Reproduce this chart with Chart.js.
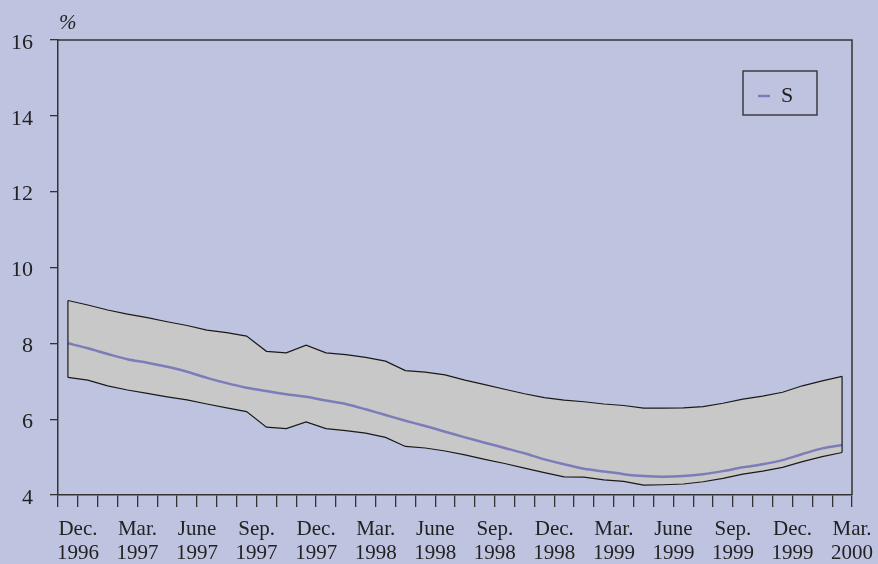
<!DOCTYPE html>
<html>
<head>
<meta charset="utf-8">
<script src="https://cdn.jsdelivr.net/npm/chart.js@4/dist/chart.umd.min.js"></script>
<style>
  html, body { margin: 0; padding: 0; background: #BEC4E0; }
  canvas { display: block; }
</style>
</head>
<body>
<canvas id="c" width="878" height="564"></canvas>
<script>
// Monthly categories, Dec. 1996 .. Mar. 2000
const categories = [
  "Dec. 1996","Jan. 1997","Feb. 1997","Mar. 1997","Apr. 1997","May 1997","June 1997","July 1997","Aug. 1997","Sep. 1997",
  "Oct. 1997","Nov. 1997","Dec. 1997","Jan. 1998","Feb. 1998","Mar. 1998","Apr. 1998","May 1998","June 1998","July 1998",
  "Aug. 1998","Sep. 1998","Oct. 1998","Nov. 1998","Dec. 1998","Jan. 1999","Feb. 1999","Mar. 1999","Apr. 1999","May 1999",
  "June 1999","July 1999","Aug. 1999","Sep. 1999","Oct. 1999","Nov. 1999","Dec. 1999","Jan. 2000","Feb. 2000","Mar. 2000"
];
// Tick labels shown under the axis (every third month)
const tickLabels = {
  "Dec. 1996": ["Dec.", "1996"], "Mar. 1997": ["Mar.", "1997"], "June 1997": ["June", "1997"], "Sep. 1997": ["Sep.", "1997"],
  "Dec. 1997": ["Dec.", "1997"], "Mar. 1998": ["Mar.", "1998"], "June 1998": ["June", "1998"], "Sep. 1998": ["Sep.", "1998"],
  "Dec. 1998": ["Dec.", "1998"], "Mar. 1999": ["Mar.", "1999"], "June 1999": ["June", "1999"], "Sep. 1999": ["Sep.", "1999"],
  "Dec. 1999": ["Dec.", "1999"], "Mar. 2000": ["Mar.", "2000"]
};
const upperBand = [9.13, 9.01, 8.88, 8.77, 8.68, 8.57, 8.47, 8.35, 8.28, 8.19,
                   7.79, 7.75, 7.95, 7.75, 7.70, 7.63, 7.53, 7.28, 7.24, 7.17,
                   7.03, 6.91, 6.79, 6.67, 6.57, 6.50, 6.46, 6.40, 6.36, 6.29,
                   6.29, 6.30, 6.33, 6.42, 6.53, 6.61, 6.71, 6.88, 7.01, 7.13];
const lowerBand = [7.10, 7.03, 6.88, 6.77, 6.68, 6.59, 6.51, 6.40, 6.30, 6.20,
                   5.79, 5.75, 5.93, 5.75, 5.70, 5.63, 5.52, 5.28, 5.24, 5.16,
                   5.06, 4.94, 4.83, 4.71, 4.59, 4.48, 4.47, 4.40, 4.36, 4.26,
                   4.27, 4.29, 4.35, 4.44, 4.55, 4.63, 4.73, 4.88, 5.01, 5.12];
const seriesS   = [8.00, 7.87, 7.72, 7.58, 7.49, 7.38, 7.25, 7.09, 6.95, 6.83,
                   6.74, 6.66, 6.59, 6.49, 6.40, 6.26, 6.11, 5.96, 5.82, 5.67,
                   5.52, 5.38, 5.24, 5.10, 4.94, 4.81, 4.69, 4.62, 4.55, 4.50,
                   4.48, 4.50, 4.55, 4.63, 4.73, 4.81, 4.92, 5.08, 5.23, 5.32];
const yMin = 4, yMax = 16, yStep = 2;
const unitLabel = "%";
const seriesName = "S";

const AXIS = '#333333';
const TEXT = '#222222';
const SERIF = '"Liberation Serif", "DejaVu Serif", serif';
const PURPLE = '#7C7CBA';

const framePlugin = {
  id: 'frame',
  afterDatasetsDraw(chart) {
    const ctx = chart.ctx;
    const x = chart.scales.x, y = chart.scales.y;
    ctx.save();
    // vertical edges of the band
    ctx.strokeStyle = '#1a1a1a';
    ctx.lineWidth = 1.2;
    const n = categories.length - 1;
    [0, n].forEach(i => {
      const px = x.getPixelForValue(i);
      ctx.beginPath();
      ctx.moveTo(px, y.getPixelForValue(upperBand[i]));
      ctx.lineTo(px, y.getPixelForValue(lowerBand[i]));
      ctx.stroke();
    });
    ctx.restore();
  },
  afterDraw(chart) {
    const ctx = chart.ctx, a = chart.chartArea;
    ctx.save();
    ctx.strokeStyle = AXIS;
    ctx.lineWidth = 1.5;
    ctx.beginPath();
    ctx.moveTo(a.left, a.top);
    ctx.lineTo(a.right, a.top);
    ctx.lineTo(a.right, a.bottom);
    ctx.stroke();
    // unit label
    ctx.fillStyle = TEXT;
    ctx.font = 'italic 21px ' + SERIF;
    ctx.textAlign = 'left';
    ctx.textBaseline = 'alphabetic';
    ctx.fillText(unitLabel, a.left + 1, a.top - 11);
    // legend box
    const bx = 743, by = 71, bw = 74, bh = 44;
    ctx.lineWidth = 1.4;
    ctx.strokeStyle = AXIS;
    ctx.strokeRect(bx, by, bw, bh);
    ctx.strokeStyle = PURPLE;
    ctx.lineWidth = 2.5;
    ctx.beginPath();
    ctx.moveTo(bx + 15, by + 25);
    ctx.lineTo(bx + 27, by + 25);
    ctx.stroke();
    ctx.fillStyle = TEXT;
    ctx.font = '22px ' + SERIF;
    ctx.fillText(seriesName, bx + 38, by + 31);
    ctx.restore();
  }
};

new Chart(document.getElementById('c'), {
  type: 'line',
  data: {
    labels: categories,
    datasets: [
      { label: 'upper', data: upperBand, borderColor: '#1a1a1a', borderWidth: 1.2,
        backgroundColor: '#C8C8C8', fill: '+1', pointRadius: 0, tension: 0, order: 2 },
      { label: 'lower', data: lowerBand, borderColor: '#1a1a1a', borderWidth: 1.2,
        fill: false, pointRadius: 0, tension: 0, order: 1 },
      { label: seriesName, data: seriesS, borderColor: PURPLE, borderWidth: 2.5,
        fill: false, pointRadius: 0, tension: 0.3, order: 0 }
    ]
  },
  options: {
    responsive: false,
    animation: false,
    layout: { padding: { top: 40, right: 26, left: 0, bottom: 0 } },
    plugins: { legend: { display: false }, tooltip: { enabled: false }, title: { display: false } },
    scales: {
      x: {
        type: 'category',
        offset: true,
        grid: { offset: true, drawOnChartArea: false, drawTicks: true, tickLength: 12, color: AXIS, lineWidth: 1.3 },
        border: { display: true, color: AXIS, width: 1.5 },
        ticks: {
          autoSkip: false, maxRotation: 0, minRotation: 0,
          padding: 11, labelOffset: 10,
          color: TEXT, font: { family: SERIF, size: 21, lineHeight: 1.12 },
          callback: (v, i) => tickLabels[categories[i]] || ''
        },
        afterFit: s => { s.height = 69; }
      },
      y: {
        min: yMin, max: yMax,
        grid: { drawOnChartArea: false, drawTicks: true, tickLength: 8, color: AXIS, lineWidth: 1.3 },
        border: { display: true, color: AXIS, width: 1.5 },
        ticks: { stepSize: yStep, padding: 17, labelOffset: 3, color: TEXT, font: { family: SERIF, size: 22 } },
        afterFit: s => { s.width = 58; }
      }
    }
  },
  plugins: [framePlugin]
});
</script>
</body>
</html>
